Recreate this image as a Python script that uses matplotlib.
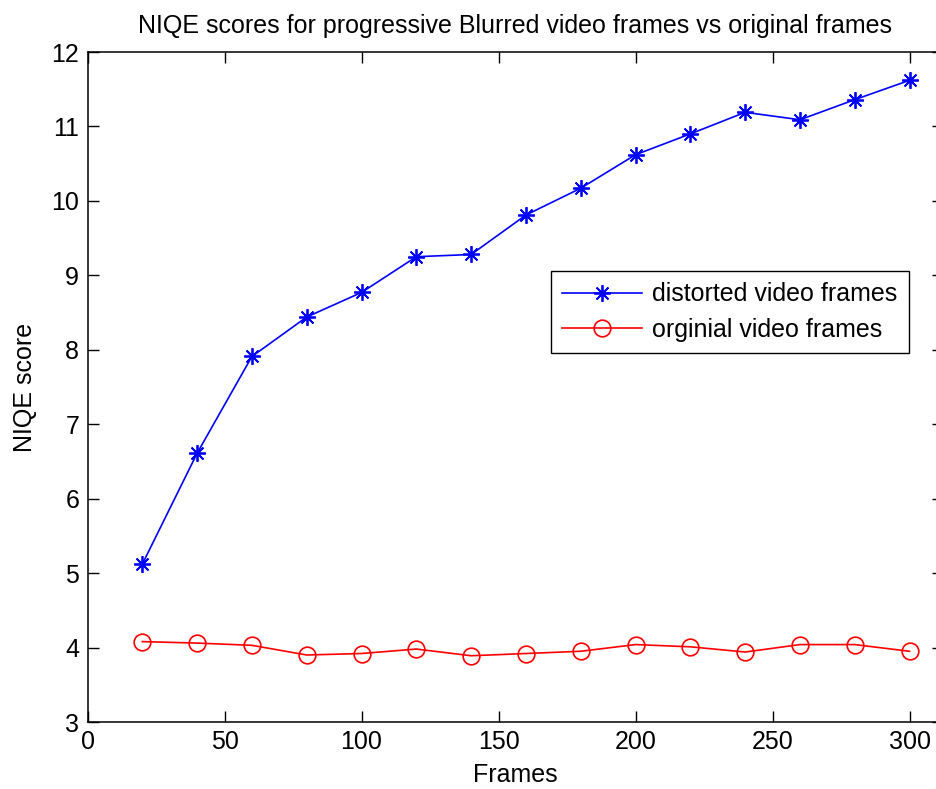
import matplotlib
matplotlib.use("Agg")
import matplotlib.pyplot as plt

frames = [20, 40, 60, 80, 100, 120, 140, 160, 180, 200, 220, 240, 260, 280, 300]
distorted = [5.12, 6.61, 7.91, 8.44, 8.77, 9.25, 9.28, 9.81, 10.17, 10.62, 10.90, 11.19, 11.09, 11.36, 11.62]
original = [4.08, 4.06, 4.03, 3.90, 3.92, 3.98, 3.89, 3.92, 3.95, 4.04, 4.01, 3.94, 4.04, 4.04, 3.95]
xticks = [0, 50, 100, 150, 200, 250, 300]
yticks = [3, 4, 5, 6, 7, 8, 9, 10, 11, 12]

plt.rcParams['font.family'] = ['Liberation Sans', 'DejaVu Sans']
FS = 18

fig = plt.figure(figsize=(9.36, 7.89), dpi=100)
W, H = 936, 789
L, R, T, B = 87.5, 943, 52, 722
ax = fig.add_axes([L / W, (H - B) / H, (R - L) / W, (B - T) / H])

ax.plot(frames, distorted, color='#0000ff', lw=1.2, marker=(8, 2, 0),
        markersize=12, markeredgewidth=1.3, label='distorted video frames')
ax.plot(frames, original, color='#ff0000', lw=1.2, marker='o', markersize=12,
        markerfacecolor='none', markeredgewidth=1.2, label='orginial video frames')

ax.set_xlim(0, 312.2)
ax.set_ylim(3, 12)
ax.set_xticks(xticks)
ax.set_yticks(yticks)
ax.tick_params(direction='in', length=8, width=1.0, top=True, right=True,
               labelsize=FS, colors='black', pad=6)
for s in ax.spines.values():
    s.set_linewidth(1.1)
ax.set_title('NIQE scores for progressive Blurred video frames vs original frames',
             fontsize=FS, pad=14)
ax.set_xlabel('Frames', fontsize=FS, labelpad=6)
ax.set_ylabel('NIQE score', fontsize=FS, labelpad=10)

leg = ax.legend(loc='upper left', bbox_to_anchor=((551 - L) / (R - L), (B - 271) / (B - T)),
                fontsize=FS, fancybox=False, frameon=True, edgecolor='black',
                framealpha=1, handlelength=3.2, borderpad=0.45, labelspacing=0.45,
                borderaxespad=0, handletextpad=0.4)
leg.get_frame().set_linewidth(1.0)

fig.savefig('out.png', dpi=100)
